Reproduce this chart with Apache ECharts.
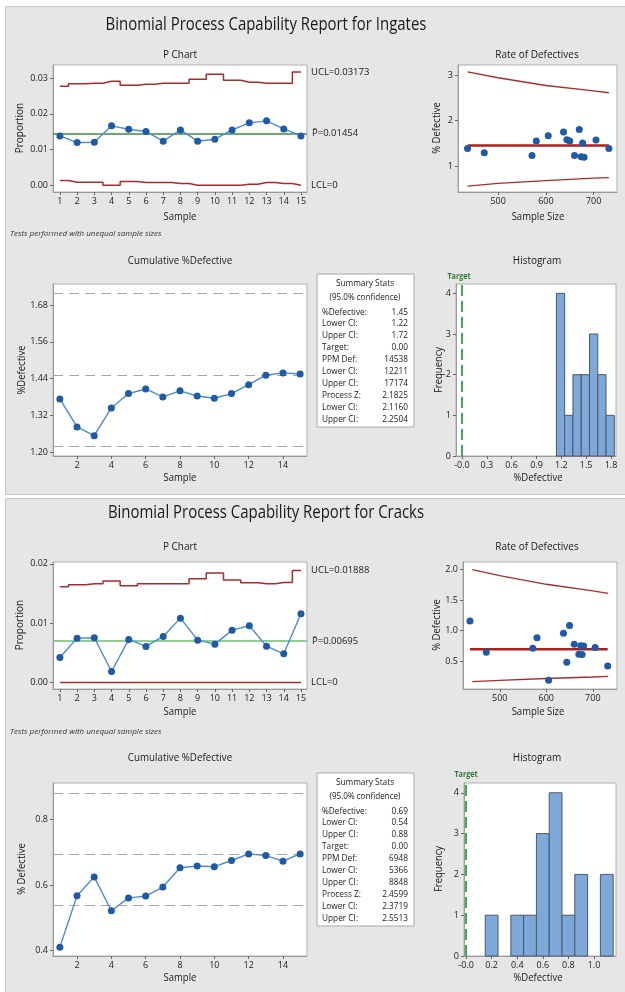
<!DOCTYPE html>
<html>
<head>
<meta charset="utf-8">
<script src="https://cdn.jsdelivr.net/npm/echarts@6/dist/echarts.min.js"></script>
<style>
  body { margin: 0; background: #fff; }
  .panel { position: absolute; left: 5px; width: 619px; background: #e6e6e6; border: 1px solid #c9c9c9; }
  #chart { position: absolute; left: 0; top: 0; width: 625px; height: 992px; }
</style>
</head>
<body>
<div class="panel" style="top:6px;height:487px"></div>
<div class="panel" style="top:498px;height:494px"></div>
<div id="chart"></div>
<script>
// ---- data ----
const samples = [1, 2, 3, 4, 5, 6, 7, 8, 9, 10, 11, 12, 13, 14, 15]
const sampleSize = [732, 680, 674, 605, 705, 677, 660, 650, 571, 471, 580, 637, 670, 644, 436]

// Ingates
const ingatesP = [0.01383, 0.01196, 0.01206, 0.01664, 0.01570, 0.01505, 0.01234, 0.01551, 0.01234, 0.01290, 0.01551, 0.01748, 0.01804, 0.01579, 0.01383]
const ingatesUcl = [0.02776, 0.02841, 0.02860, 0.02916, 0.02804, 0.02832, 0.02860, 0.02860, 0.02972, 0.03112, 0.02944, 0.02888, 0.02860, 0.02860, 0.03173]
const ingatesLcl = [0.00131, 0.00084, 0.00084, 0, 0.00103, 0.00075, 0.00075, 0.00047, 0, 0, 0, 0.00028, 0.00075, 0.00047, 0]
const ingatesPbar = 0.01454
const ingatesRateN = [436, 500, 600, 700, 732]
const ingatesRateUcl = [3.07, 2.94, 2.77, 2.65, 2.61]
const ingatesRateLcl = [0.56, 0.62, 0.68, 0.735, 0.745]
const ingatesCum = [1.3735, 1.2818, 1.2535, 1.344, 1.391, 1.406, 1.380, 1.400, 1.383, 1.3756, 1.391, 1.420, 1.451, 1.4585, 1.455]
const ingatesCi = [1.22, 1.452, 1.718]
const ingatesBins = [1.19, 1.29, 1.39, 1.49, 1.59, 1.69, 1.79]
const ingatesCounts = [4, 1, 2, 2, 3, 2, 1]
const ingatesStats = [['%Defective:', '1.45'], ['Lower CI:', '1.22'], ['Upper CI:', '1.72'], ['Target:', '0.00'], ['PPM Def:', '14538'], ['Lower CI:', '12211'], ['Upper CI:', '17174'], ['Process Z:', '2.1825'], ['Lower CI:', '2.1160'], ['Upper CI:', '2.2504']]

// Cracks
const cracksP = [0.00421, 0.00747, 0.00753, 0.00185, 0.00725, 0.00607, 0.00775, 0.01084, 0.00713, 0.00646, 0.00882, 0.00955, 0.00612, 0.00483, 0.01157]
const cracksUcl = [0.01612, 0.01646, 0.01663, 0.01708, 0.01629, 0.01663, 0.01663, 0.01663, 0.01747, 0.01843, 0.01725, 0.01680, 0.01663, 0.01685, 0.01888]
const cracksLcl = [0, 0, 0, 0, 0, 0, 0, 0, 0, 0, 0, 0, 0, 0, 0]
const cracksPbar = 0.00695
const cracksRateN = [441, 500, 600, 700, 733]
const cracksRateUcl = [2.0, 1.9, 1.76, 1.65, 1.61]
const cracksRateLcl = [0.165, 0.185, 0.215, 0.24, 0.25]
const cracksCum = [0.411, 0.5675, 0.625, 0.522, 0.561, 0.5665, 0.594, 0.653, 0.658, 0.656, 0.675, 0.695, 0.690, 0.673, 0.695]
const cracksCi = [0.538, 0.694, 0.880]
const cracksBins = [0.2, 0.3, 0.4, 0.5, 0.6, 0.7, 0.8, 0.9, 1.0, 1.1]
const cracksCounts = [1, 0, 1, 1, 3, 4, 1, 2, 0, 2]
const cracksStats = [['%Defective:', '0.69'], ['Lower CI:', '0.54'], ['Upper CI:', '0.88'], ['Target:', '0.00'], ['PPM Def:', '6948'], ['Lower CI:', '5366'], ['Upper CI:', '8848'], ['Process Z:', '2.4599'], ['Lower CI:', '2.3719'], ['Upper CI:', '2.5513']]

const target = 0
const binWidth = 0.1

// tick values
const sampleTicks = samples
const cumTicks = [2, 4, 6, 8, 10, 12, 14]
const sizeTicks = [500, 600, 700]
const countTicks = [0, 1, 2, 3, 4]
const ingatesPTicks = [0, 0.01, 0.02, 0.03]
const ingatesRateTicks = [1, 2, 3]
const ingatesCumTicks = [1.20, 1.32, 1.44, 1.56, 1.68]
const ingatesHistTicks = [0, 0.3, 0.6, 0.9, 1.2, 1.5, 1.8]
const cracksPTicks = [0, 0.01, 0.02]
const cracksRateTicks = [0.5, 1.0, 1.5, 2.0]
const cracksCumTicks = [0.4, 0.6, 0.8]
const cracksHistTicks = [0, 0.2, 0.4, 0.6, 0.8, 1.0]

const FONT = "'Open Sans', 'Noto Sans', sans-serif"
const RED = '#aa2b2b'
const DOT = '#1f5aa6'
const LINE = '#4a8bd6'

const zip = (xs, ys) => xs.map((x, i) => [x, ys[i]])

function xAx(grid, min, max, ticks, formatter) {
  return {
    type: 'value', gridIndex: grid, min: min, max: max, position: 'bottom',
    axisLine: { show: true, onZero: false, lineStyle: { color: '#9a9a9a' } },
    axisTick: { show: true, length: 3, customValues: ticks, lineStyle: { color: '#666' } },
    axisLabel: { customValues: ticks, fontSize: 9, color: '#222', margin: 5, fontFamily: FONT, formatter: formatter },
    splitLine: { show: false }
  }
}
function yAx(grid, min, max, ticks, formatter) {
  return {
    type: 'value', gridIndex: grid, min: min, max: max, position: 'left',
    axisLine: { show: true, onZero: false, lineStyle: { color: '#9a9a9a' } },
    axisTick: { show: true, length: 3, customValues: ticks, lineStyle: { color: '#666' } },
    axisLabel: { customValues: ticks, fontSize: 9, color: '#222', margin: 5, fontFamily: FONT, formatter: formatter },
    splitLine: { show: false }
  }
}

function txt(x, y, s, o) {
  o = o || {}
  return {
    type: 'text', x: x, y: y, rotation: o.rot || 0, scaleX: o.sx || 1, silent: true,
    style: {
      text: s, fontSize: o.size || 10, fontFamily: FONT, fill: o.color || '#1a1a1a',
      align: o.align || 'center', verticalAlign: 'middle',
      fontStyle: o.italic ? 'italic' : 'normal', fontWeight: o.bold ? 'bold' : 'normal'
    }
  }
}

// one report: P chart, rate of defectives, cumulative, histogram
function report(g, d) {
  const series = []
  // P chart
  series.push({
    type: 'line', xAxisIndex: g, yAxisIndex: g, step: 'middle', showSymbol: false,
    data: zip(samples, d.ucl), lineStyle: { color: RED, width: 1.5 },
    endLabel: { show: true, formatter: 'UCL=' + d.ucl[d.ucl.length - 1].toFixed(5), fontSize: 9.5, color: '#1a1a1a', distance: 10, fontFamily: FONT }
  })
  series.push({
    type: 'line', xAxisIndex: g, yAxisIndex: g, step: 'middle', showSymbol: false,
    data: zip(samples, d.lcl), lineStyle: { color: RED, width: 1.5 },
    endLabel: { show: true, formatter: 'LCL=0', fontSize: 9.5, color: '#1a1a1a', distance: 10, fontFamily: FONT }
  })
  series.push({
    type: 'line', xAxisIndex: g, yAxisIndex: g, data: zip(samples, d.p),
    symbol: 'circle', symbolSize: 7, itemStyle: { color: DOT }, lineStyle: { color: LINE, width: 1.4 },
    markLine: {
      silent: true, symbol: 'none', precision: 6, data: [{ yAxis: d.pbar }],
      lineStyle: { color: d.green, width: 1.5, type: 'solid' },
      label: { position: 'end', distance: 5, formatter: 'P\u0304=' + d.pbar.toFixed(5), fontSize: 9.5, color: '#1a1a1a', fontFamily: FONT }
    },
    z: 5
  })
  // rate of defectives
  series.push({ type: 'line', xAxisIndex: g + 1, yAxisIndex: g + 1, showSymbol: false, data: zip(d.rateN, d.rateUcl), lineStyle: { color: RED, width: 1.3 } })
  series.push({ type: 'line', xAxisIndex: g + 1, yAxisIndex: g + 1, showSymbol: false, data: zip(d.rateN, d.rateLcl), lineStyle: { color: RED, width: 1.3 } })
  series.push({
    type: 'line', xAxisIndex: g + 1, yAxisIndex: g + 1, showSymbol: false,
    data: [[Math.min(...sampleSize), d.pbar * 100], [Math.max(...sampleSize), d.pbar * 100]],
    lineStyle: { color: '#b01e1e', width: 2.5 }
  })
  series.push({
    type: 'scatter', xAxisIndex: g + 1, yAxisIndex: g + 1, symbolSize: 7,
    data: sampleSize.map((n, i) => [n, d.p[i] * 100]), itemStyle: { color: DOT, opacity: 1 }, z: 5
  })
  // cumulative %defective
  series.push({
    type: 'line', xAxisIndex: g + 2, yAxisIndex: g + 2, data: zip(samples, d.cum),
    symbol: 'circle', symbolSize: 7, itemStyle: { color: DOT }, lineStyle: { color: LINE, width: 1.4 },
    markLine: {
      silent: true, symbol: 'none', precision: 6, label: { show: false },
      data: d.ci.map(v => ({ yAxis: v })),
      lineStyle: { color: '#a8a8a8', width: 1.2, type: [10, 6] }
    },
    z: 5
  })
  // histogram
  series.push({
    type: 'custom', xAxisIndex: g + 3, yAxisIndex: g + 3,
    data: zip(d.bins, d.counts),
    renderItem: function (params, api) {
      const c = api.value(0), n = api.value(1)
      if (!n) return null
      const p0 = api.coord([c - binWidth / 2, 0])
      const p1 = api.coord([c + binWidth / 2, n])
      return {
        type: 'rect',
        shape: { x: p0[0], y: p1[1], width: p1[0] - p0[0], height: p0[1] - p1[1] },
        style: { fill: '#7ca8da', stroke: '#4f5864', lineWidth: 1 }
      }
    }
  })
  series.push({
    type: 'scatter', xAxisIndex: g + 3, yAxisIndex: g + 3, symbolSize: 0, data: [[target, 0]],
    markLine: {
      silent: true, symbol: 'none', precision: 6, label: { show: false }, data: [{ xAxis: target }],
      lineStyle: { color: '#3cae55', width: 2, type: [11, 5] }
    }
  })
  return series
}

const grids = [
  { left: 53, top: 65, width: 254, height: 127 },
  { left: 458, top: 65, width: 159, height: 127 },
  { left: 53, top: 284, width: 254, height: 172 },
  { left: 456, top: 284, width: 160, height: 172 },
  { left: 53, top: 562, width: 254, height: 127 },
  { left: 463, top: 562, width: 154, height: 127 },
  { left: 53, top: 783, width: 254, height: 173 },
  { left: 464, top: 783, width: 152, height: 173 }
].map(g => Object.assign(g, { show: true, backgroundColor: '#fff', borderColor: '#b0b0b0', borderWidth: 1 }))

const histFmt = v => (v === 0 ? '-0.0' : v.toFixed(1))

const xAxes = [
  xAx(0, 0.6, 15.35, sampleTicks),
  xAx(1, 416, 749, sizeTicks),
  xAx(2, 0.6, 15.4, cumTicks),
  xAx(3, -0.072, 1.86, ingatesHistTicks, histFmt),
  xAx(4, 0.6, 15.35, sampleTicks),
  xAx(5, 421, 752, sizeTicks),
  xAx(6, 0.6, 15.4, cumTicks),
  xAx(7, -0.016, 1.172, cracksHistTicks, histFmt)
]
const yAxes = [
  yAx(0, -0.0019, 0.0337, ingatesPTicks, v => v.toFixed(2)),
  yAx(1, 0.43, 3.22, ingatesRateTicks),
  yAx(2, 1.187, 1.749, ingatesCumTicks, v => v.toFixed(2)),
  yAx(3, 0, 4.23, countTicks),
  yAx(4, -0.0011, 0.0203, cracksPTicks, v => v.toFixed(2)),
  yAx(5, 0.043, 2.125, cracksRateTicks, v => v.toFixed(1)),
  yAx(6, 0.384, 0.911, cracksCumTicks, v => v.toFixed(1)),
  yAx(7, 0, 4.24, countTicks)
]

const series = report(0, {
  p: ingatesP, ucl: ingatesUcl, lcl: ingatesLcl, pbar: ingatesPbar, green: '#3d8f3d',
  rateN: ingatesRateN, rateUcl: ingatesRateUcl, rateLcl: ingatesRateLcl,
  cum: ingatesCum, ci: ingatesCi, bins: ingatesBins, counts: ingatesCounts
}).concat(report(4, {
  p: cracksP, ucl: cracksUcl, lcl: cracksLcl, pbar: cracksPbar, green: '#6cbf6c',
  rateN: cracksRateN, rateUcl: cracksRateUcl, rateLcl: cracksRateLcl,
  cum: cracksCum, ci: cracksCi, bins: cracksBins, counts: cracksCounts
}))

// texts
function panelTexts(dy, name, stats, boxTop, t) {
  const out = []
  out.push(txt(266, 25 + dy, 'Binomial Process Capability Report for ' + name, { size: 18, sx: 0.83 }))
  out.push(txt(180, t.pTitle, 'P Chart', { size: 10.5, sx: 0.95 }))
  out.push(txt(537, t.pTitle, 'Rate of Defectives', { size: 10.5, sx: 0.95 }))
  out.push(txt(180, t.cTitle, 'Cumulative %Defective', { size: 10.5, sx: 0.93 }))
  out.push(txt(537, t.cTitle, 'Histogram', { size: 10.5, sx: 0.95 }))
  out.push(txt(180, t.pX, 'Sample', { size: 10, sx: 0.95 }))
  out.push(txt(538, t.pX, 'Sample Size', { size: 10, sx: 0.95 }))
  out.push(txt(180, t.cX, 'Sample', { size: 10, sx: 0.95 }))
  out.push(txt(538, t.cX, '%Defective', { size: 10, sx: 0.95 }))
  out.push(txt(20, t.pY, 'Proportion', { size: 10.5, rot: Math.PI / 2, sx: 0.95 }))
  out.push(txt(437, t.pY, '% Defective', { size: 10, rot: Math.PI / 2, sx: 0.95 }))
  out.push(txt(22, t.cY, t.cumName, { size: 10, rot: Math.PI / 2, sx: 0.95 }))
  out.push(txt(439, t.cY, 'Frequency', { size: 10, rot: Math.PI / 2, sx: 0.95 }))
  out.push(txt(10, t.tests, 'Tests performed with unequal sample sizes', { size: 8, italic: true, align: 'left', color: '#333' }))
  out.push(txt(t.targetX, t.targetY, 'Target', { size: 8, bold: true, color: '#2e7d32', sx: 0.9 }))
  // summary stats box
  out.push({ type: 'rect', shape: { x: 317, y: boxTop, width: 97, height: 153 }, style: { fill: '#fff', stroke: '#a8a8a8', lineWidth: 1 }, silent: true })
  out.push(txt(365, boxTop + 9, 'Summary Stats', { size: 9, sx: 0.92 }))
  out.push(txt(365, boxTop + 23, '(95.0% confidence)', { size: 9, sx: 0.9 }))
  stats.forEach((r, i) => {
    const y = boxTop + 38 + i * 11.9
    out.push(txt(322, y, r[0], { size: 9, align: 'left', sx: 0.92 }))
    out.push({ type: 'text', x: 408, y: y, scaleX: 0.92, silent: true, style: { text: r[1], fontSize: 9, fontFamily: FONT, fill: '#1a1a1a', align: 'right', verticalAlign: 'middle' } })
  })
  return out
}

const elements = panelTexts(0, 'Ingates', ingatesStats, 274, {
  pTitle: 55, cTitle: 261, pX: 217, cX: 478, pY: 128, cY: 370, cumName: '%Defective',
  tests: 234, targetX: 459, targetY: 277
}).concat(panelTexts(488, 'Cracks', cracksStats, 773, {
  pTitle: 547, cTitle: 758, pX: 712, cX: 978, pY: 625, cY: 869, cumName: '% Defective',
  tests: 732, targetX: 466, targetY: 775
}))

const chart = echarts.init(document.getElementById('chart'), null, { renderer: 'canvas' })
chart.setOption({
  animation: false,
  backgroundColor: 'transparent',
  textStyle: { fontFamily: FONT },
  grid: grids,
  xAxis: xAxes,
  yAxis: yAxes,
  series: series,
  graphic: { elements: elements }
})
</script>
</body>
</html>
